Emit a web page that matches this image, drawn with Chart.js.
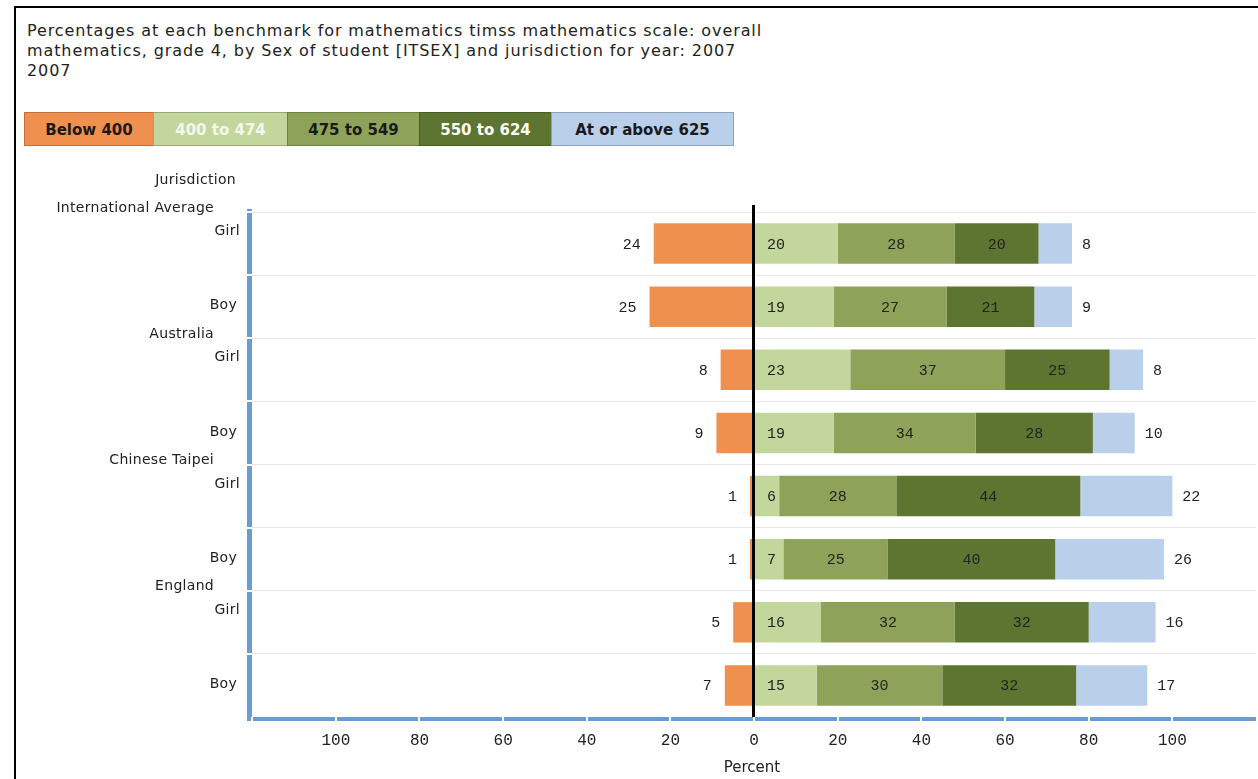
<!DOCTYPE html>
<html>
<head>
<meta charset="utf-8">
<script src="https://cdn.jsdelivr.net/npm/chart.js@4/dist/chart.umd.min.js"></script>
<style>
  html, body { margin: 0; padding: 0; background: #fff; }
  body { width: 1258px; height: 779px; position: relative; overflow: hidden; font-family: "DejaVu Sans", sans-serif; }
  #frame { position: absolute; left: 14px; top: 6px; width: 1300px; height: 900px; border-left: 2px solid #000; border-top: 2px solid #000; }
  #title { position: absolute; left: 27px; top: 21px; font-size: 16px; letter-spacing: 0.9px; line-height: 20px; color: #222; white-space: nowrap; }
  #legend { position: absolute; left: 24px; top: 112px; height: 34px; display: flex; }
  #legend div { height: 34px; line-height: 34px; text-align: center; font-weight: bold; font-size: 15px; box-sizing: border-box; border: 1px solid rgba(0,0,0,0.22); border-right: none; }
  #legend div:last-child { border-right: 1px solid rgba(0,0,0,0.22); }
  #c { position: absolute; left: 0; top: 0; }
</style>
</head>
<body>
<div id="frame"></div>
<div id="title">Percentages at each benchmark for mathematics timss mathematics scale: overall<br>mathematics, grade 4, by Sex of student [ITSEX] and jurisdiction for year: 2007<br>2007</div>
<div id="legend"></div>
<canvas id="c" width="1258" height="779"></canvas>
<script>
// ---- data ----
const jurisdictions = ["International Average", "Australia", "Chinese Taipei", "England"];
const sexes = ["Girl", "Boy"];
const seriesNames = ["Below 400", "400 to 474", "475 to 549", "550 to 624", "At or above 625"];
const below400     = [24, 25, 8, 9, 1, 1, 5, 7];
const b400to474    = [20, 19, 23, 19, 6, 7, 16, 15];
const b475to549    = [28, 27, 37, 34, 28, 25, 32, 30];
const b550to624    = [20, 21, 25, 28, 44, 40, 32, 32];
const atOrAbove625 = [8, 9, 8, 10, 22, 26, 16, 17];
const xTickValues  = [-100, -80, -60, -40, -20, 0, 20, 40, 60, 80, 100];
const yAxisTitle = "Jurisdiction";
const xAxisTitle = "Percent";

// ---- styles ----
const seriesColors = ["#F0904F", "#C3D69B", "#8EA359", "#5E7531", "#B9CFEA"];
const legendText   = ["#1a1a1a", "#f4f8ec", "#1a1a1a", "#ffffff", "#1a1a1a"];
const legendWidths = [129, 134, 132, 132, 183];

// legend (HTML)
const legendEl = document.getElementById('legend');
seriesNames.forEach((n, i) => {
  const d = document.createElement('div');
  d.textContent = n;
  d.style.width = legendWidths[i] + 'px';
  d.style.background = seriesColors[i];
  d.style.color = legendText[i];
  legendEl.appendChild(d);
});

const rowLabels = [];
jurisdictions.forEach(j => sexes.forEach(s => rowLabels.push(j + " " + s)));

const seriesData = [below400.map(v => -v), b400to474, b475to549, b550to624, atOrAbove625];

const AXIS_BLUE = "#6B9BCF";

const decorPlugin = {
  id: 'decor',
  afterDatasetsDraw(chart) {
    const ctx = chart.ctx;
    const xs = chart.scales.x, ys = chart.scales.y;
    const ca = chart.chartArea;
    const half = (ys.getPixelForValue(1) - ys.getPixelForValue(0)) / 2;
    ctx.save();
    // zero line
    const x0 = xs.getPixelForValue(0);
    ctx.fillStyle = "#000";
    ctx.fillRect(Math.round(x0) - 2, ca.top - 7, 3, ca.bottom - ca.top + 7);
    // y axis
    ctx.fillStyle = AXIS_BLUE;
    ctx.fillRect(ca.left - 1, ca.top - 3, 5, ca.bottom - ca.top + 6);
    ctx.fillStyle = "#fff";
    for (let i = 0; i < rowLabels.length; i++) {
      const b = ys.getPixelForValue(i) - half;
      ctx.fillRect(ca.left - 1, Math.round(b) - 1, 5, 2);
    }
    // x axis
    ctx.fillStyle = AXIS_BLUE;
    ctx.fillRect(ca.left - 1, ca.bottom, ca.right - ca.left + 1, 4);
    ctx.fillStyle = "#fff";
    xTickValues.forEach(v => {
      const px = xs.getPixelForValue(v);
      ctx.fillRect(Math.round(px) - 1, ca.bottom, 2, 4);
    });
    ctx.fillRect(ca.left + 3, ca.bottom, 2, 4);

    // y labels
    ctx.fillStyle = "#222";
    ctx.font = '14px "DejaVu Sans", sans-serif';
    ctx.textAlign = 'right';
    ctx.textBaseline = 'middle';
    try { ctx.letterSpacing = '0.3px'; } catch (e) {}
    ctx.fillText(yAxisTitle, 236, ca.top - 32);
    rowLabels.forEach((lab, i) => {
      const cy = ys.getPixelForValue(i);
      const si = i % sexes.length;
      if (si === 0) {
        ctx.fillText(jurisdictions[Math.floor(i / sexes.length)], 214, cy - half - 4);
        ctx.fillText(sexes[si], 240, cy - 12);
      } else {
        ctx.fillText(sexes[si], 237, cy - 1);
      }
    });
    try { ctx.letterSpacing = '0px'; } catch (e) {}

    // data labels
    ctx.font = '15px "Liberation Mono", monospace';
    ctx.fillStyle = "#222";
    chart.data.datasets.forEach((ds, di) => {
      const meta = chart.getDatasetMeta(di);
      meta.data.forEach((bar, i) => {
        const v = Math.abs(ds.data[i]);
        const y = bar.y + 1;
        const left = Math.min(bar.x, bar.base), right = Math.max(bar.x, bar.base);
        if (di === 0) {
          ctx.textAlign = 'right';
          ctx.fillText(String(v), left - 13, y);
        } else if (di === 1) {
          ctx.textAlign = 'left';
          ctx.fillText(String(v), left + 13, y);
        } else if (di === 4) {
          ctx.textAlign = 'left';
          ctx.fillText(String(v), right + 10, y);
        } else {
          ctx.textAlign = 'center';
          ctx.fillText(String(v), (left + right) / 2, y);
        }
      });
    });
    ctx.restore();
  }
};

new Chart(document.getElementById('c'), {
  type: 'bar',
  data: {
    labels: rowLabels,
    datasets: seriesNames.map((n, i) => ({
      label: n,
      data: seriesData[i],
      backgroundColor: seriesColors[i],
      borderWidth: 0,
      barPercentage: 0.64,
      categoryPercentage: 1.0
    }))
  },
  options: {
    indexAxis: 'y',
    responsive: false,
    animation: false,
    devicePixelRatio: 1,
    layout: { padding: { left: 248, right: 2, top: 212, bottom: 0 } },
    plugins: { legend: { display: false }, tooltip: { enabled: false } },
    scales: {
      x: {
        stacked: true,
        min: -121,
        max: 120,
        grid: { display: false, drawTicks: false },
        border: { display: false },
        afterBuildTicks: s => { s.ticks = xTickValues.map(v => ({ value: v })); },
        afterFit: s => { s.height = 62; },
        ticks: {
          padding: 14,
          color: "#222",
          font: { family: '"Liberation Mono", monospace', size: 16 },
          callback: v => String(Math.abs(v))
        },
        title: {
          display: true,
          text: xAxisTitle,
          color: "#222",
          font: { family: '"DejaVu Sans", sans-serif', size: 15 },
          padding: { top: 0, bottom: 2 }
        }
      },
      y: {
        stacked: true,
        ticks: { display: false },
        grid: { color: "#e6e6e6", lineWidth: 1, drawTicks: false },
        border: { display: false },
        afterFit: s => { s.width = 0; }
      }
    }
  },
  plugins: [decorPlugin]
});
</script>
</body>
</html>
